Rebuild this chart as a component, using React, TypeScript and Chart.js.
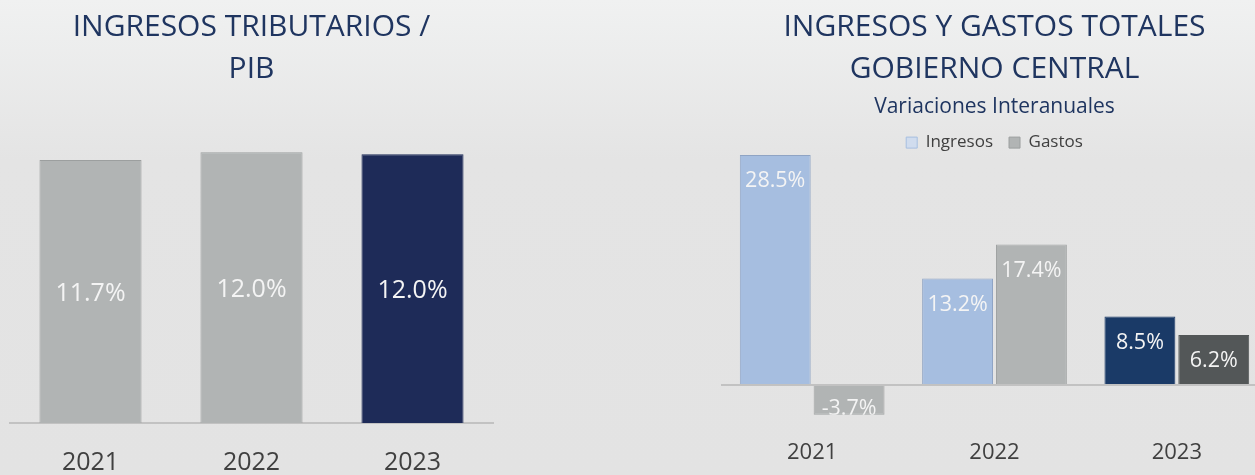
import React, { useEffect, useRef } from "react";
import { Chart, registerables } from "chart.js";

Chart.register(...registerables);

const FONT = "'Open Sans', 'Noto Sans', sans-serif";
const TITLE_COLOR = "#1f3560";
const TEXT_COLOR = "#404040";
const LABEL_COLOR = "#f4f4f4";
const AXIS_COLOR = "#c2c2c2";

// Left chart data
const leftTitle = ["INGRESOS TRIBUTARIOS /", "PIB"];
const leftYears = ["2021", "2022", "2023"];
const leftValues = [11.7, 12.04, 11.96];
const leftColors = ["#b1b4b4", "#b1b4b4", "#1e2b58"];
const leftBorders = ["#9c9f9f", "#9c9f9f", "#1e2b58"];

// Right chart data
const rightTitle = ["INGRESOS Y GASTOS TOTALES", "GOBIERNO CENTRAL"];
const rightSubtitle = "Variaciones Interanuales";
const rightYears = ["2021", "2022", "2023"];
const seriesNames = ["Ingresos", "Gastos"];
const ingresosValues = [28.5, 13.2, 8.5];
const gastosValues = [-3.7, 17.4, 6.2];
const ingresosColors = ["#a6bee0", "#a6bee0", "#1a3a67"];
const ingresosBorders = ["#8fa4c4", "#8fa4c4", "#1a3a67"];
const gastosColors = ["#b1b4b4", "#b1b4b4", "#535758"];
const gastosBorders = ["#a0a3a3", "#a0a3a3", "#535758"];
const legendFills = ["#d0dcee", "#b1b4b4"];
const legendStrokes = ["#a6bee0", "#9c9f9f"];

function labelPlugin(mode: "center" | "top", fontSize: number) {
  return {
    id: "barLabels",
    afterDatasetsDraw(chart: any) {
      const ctx = chart.ctx;
      chart.data.datasets.forEach((ds: any, di: number) => {
        const meta = chart.getDatasetMeta(di);
        meta.data.forEach((bar: any, i: number) => {
          const v = ds.data[i] as number;
          const { x, y, base, width } = bar.getProps(["x", "y", "base", "width"], true);
          const top = Math.min(y, base);
          const bottom = Math.max(y, base);
          let ty: number;
          if (mode === "center") ty = (top + bottom) / 2 + 2;
          else ty = v >= 0 ? y + 26 : base + 23;
          ctx.save();
          ctx.beginPath();
          ctx.rect(x - width / 2, top, width, bottom - top);
          ctx.clip();
          ctx.font = `${fontSize}px ${FONT}`;
          ctx.fillStyle = LABEL_COLOR;
          ctx.textAlign = "center";
          ctx.textBaseline = "middle";
          ctx.fillText(v.toFixed(1) + "%", x, ty);
          ctx.restore();
        });
      });
    },
  };
}

export default function App() {
  const leftRef = useRef<HTMLCanvasElement>(null);
  const rightRef = useRef<HTMLCanvasElement>(null);

  useEffect(() => {
    let cancelled = false;
    const charts: Chart[] = [];
    const make = () => {
      if (cancelled || !leftRef.current || !rightRef.current) return;
      charts.push(
        new Chart(leftRef.current, {
          type: "bar",
          data: {
            labels: leftYears,
            datasets: [
              {
                data: leftValues,
                backgroundColor: leftColors,
                borderColor: leftBorders,
                borderWidth: 1,
                barPercentage: 0.634,
                categoryPercentage: 1,
              },
            ],
          },
          options: {
            animation: false,
            responsive: false,
            maintainAspectRatio: false,
            layout: { padding: { left: 10, right: 17, top: 0, bottom: 0 } },
            plugins: {
              legend: { display: false },
              tooltip: { enabled: false },
              title: {
                display: true,
                text: leftTitle,
                color: TITLE_COLOR,
                font: { family: FONT, size: 30, weight: "normal", lineHeight: 1.4 },
                padding: { top: 6, bottom: 10 },
              },
            },
            scales: {
              x: {
                grid: { display: false, drawTicks: false },
                border: { display: true, color: AXIS_COLOR, width: 2 },
                ticks: { color: TEXT_COLOR, font: { family: FONT, size: 25 }, padding: 25 },
                afterFit: (s: any) => {
                  s.height = 52;
                },
              },
              y: { display: false, min: 0, max: 14.37 },
            },
          },
          plugins: [labelPlugin("center", 25)],
        } as any)
      );

      charts.push(
        new Chart(rightRef.current, {
          type: "bar",
          data: {
            labels: rightYears,
            datasets: [
              {
                label: seriesNames[0],
                data: ingresosValues,
                backgroundColor: ingresosColors,
                borderColor: ingresosBorders,
                borderWidth: 1,
                barPercentage: 0.96,
                categoryPercentage: 0.81,
              },
              {
                label: seriesNames[1],
                data: gastosValues,
                backgroundColor: gastosColors,
                borderColor: gastosBorders,
                borderWidth: 1,
                barPercentage: 0.96,
                categoryPercentage: 0.81,
              },
            ],
          },
          options: {
            animation: false,
            responsive: false,
            maintainAspectRatio: false,
            layout: { padding: { left: 21, right: 12, top: 0, bottom: 0 } },
            plugins: {
              tooltip: { enabled: false },
              title: {
                display: true,
                text: rightTitle,
                color: TITLE_COLOR,
                font: { family: FONT, size: 30, weight: "normal", lineHeight: 1.4 },
                padding: { top: 6, bottom: 0 },
              },
              subtitle: {
                display: true,
                text: rightSubtitle,
                color: TITLE_COLOR,
                font: { family: FONT, size: 21, weight: "normal", lineHeight: 1.1 },
                padding: { top: 5, bottom: 0 },
              },
              legend: {
                display: true,
                position: "top",
                maxHeight: 36,
                labels: {
                  boxWidth: 11,
                  boxHeight: 11,
                  padding: 16,
                  color: TEXT_COLOR,
                  font: { family: FONT, size: 17 },
                  generateLabels: (chart: any) =>
                    chart.data.datasets.map((ds: any, i: number) => ({
                      text: ds.label,
                      fillStyle: legendFills[i],
                      strokeStyle: legendStrokes[i],
                      lineWidth: 1,
                      fontColor: TEXT_COLOR,
                      datasetIndex: i,
                      hidden: false,
                    })),
                },
              },
            },
            scales: {
              x: {
                grid: { display: false, drawTicks: false },
                border: { display: false },
                ticks: { color: TEXT_COLOR, font: { family: FONT, size: 22 }, padding: 10 },
                afterFit: (s: any) => {
                  s.height = 45;
                },
              },
              y: {
                min: -5.58,
                max: 28.62,
                border: { display: false },
                ticks: { display: false },
                grid: {
                  drawTicks: false,
                  lineWidth: 2,
                  color: (c: any) => (c.tick && c.tick.value === 0 ? AXIS_COLOR : "rgba(0,0,0,0)"),
                },
                afterBuildTicks: (s: any) => {
                  s.ticks = [{ value: 0 }];
                },
                afterFit: (s: any) => {
                  s.width = 0;
                },
              },
            },
          },
          plugins: [labelPlugin("top", 21.5)],
        } as any)
      );
    };
    const fonts = (document as any).fonts;
    if (fonts && fonts.load) {
      Promise.all([
        fonts.load(`30px 'Open Sans'`),
        fonts.load(`21px 'Open Sans'`),
      ]).then(make, make);
    } else {
      make();
    }
    return () => {
      cancelled = true;
      charts.forEach((c) => c.destroy());
    };
  }, []);

  return (
    <div
      style={{
        position: "fixed",
        left: 0,
        top: 0,
        width: 1255,
        height: 475,
        overflow: "hidden",
        background: "linear-gradient(to bottom, #f0f1f1 0px, #e4e4e4 160px, #e3e3e3 475px)",
      }}
    >
      <canvas
        ref={leftRef}
        width={510}
        height={475}
        style={{ position: "absolute", left: 0, top: 0, width: 510, height: 475 }}
      />
      <canvas
        ref={rightRef}
        width={580}
        height={475}
        style={{ position: "absolute", left: 700, top: 0, width: 580, height: 475 }}
      />
    </div>
  );
}
